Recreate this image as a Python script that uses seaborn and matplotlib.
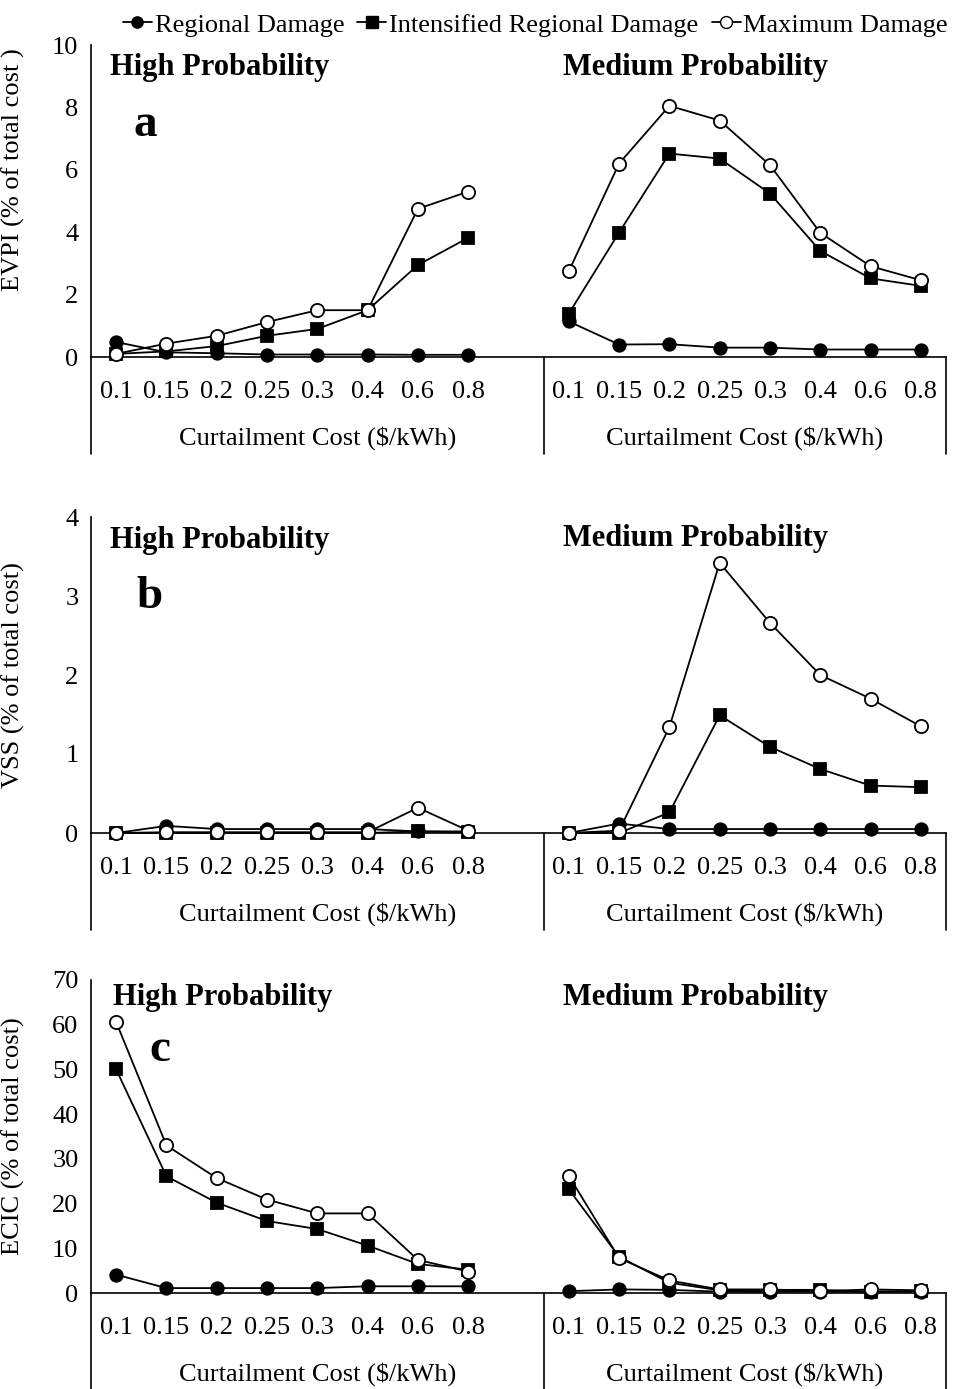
import numpy as np
import pandas as pd
import matplotlib.pyplot as plt
import matplotlib.transforms as mtransforms
from matplotlib.lines import Line2D
import seaborn as sns

# curtailment cost categories and the two probability groups
cost = ['0.1', '0.15', '0.2', '0.25', '0.3', '0.4', '0.6', '0.8']
groups = ['High Probability', 'Medium Probability']
series = ['Regional Damage', 'Intensified Regional Damage', 'Maximum Damage']

# (a) EVPI, % of total cost
evpi_high_regional = [0.48, 0.15, 0.12, 0.08, 0.08, 0.08, 0.07, 0.07]
evpi_high_intens = [0.10, 0.18, 0.35, 0.68, 0.90, 1.50, 2.95, 3.82]
evpi_high_max = [0.10, 0.43, 0.68, 1.12, 1.50, 1.50, 4.75, 5.30]
evpi_med_regional = [1.14, 0.40, 0.41, 0.30, 0.30, 0.24, 0.24, 0.24]
evpi_med_intens = [1.39, 3.99, 6.52, 6.36, 5.24, 3.40, 2.52, 2.28]
evpi_med_max = [2.75, 6.20, 8.05, 7.58, 6.15, 3.98, 2.91, 2.46]

# (b) VSS, % of total cost
vss_high_regional = [0.0, 0.09, 0.05, 0.05, 0.05, 0.05, 0.02, 0.02]
vss_high_intens = [0.0, 0.0, 0.0, 0.0, 0.0, 0.0, 0.02, 0.01]
vss_high_max = [0.0, 0.01, 0.01, 0.01, 0.01, 0.01, 0.32, 0.03]
vss_med_regional = [0.0, 0.12, 0.05, 0.05, 0.05, 0.05, 0.05, 0.05]
vss_med_intens = [0.0, 0.0, 0.26, 1.49, 1.09, 0.81, 0.60, 0.58]
vss_med_max = [0.0, 0.03, 1.34, 3.42, 2.66, 2.00, 1.70, 1.35]

# (c) ECIC, % of total cost
ecic_high_regional = [4.1, 1.1, 1.1, 1.1, 1.1, 1.5, 1.5, 1.5]
ecic_high_intens = [50.0, 26.1, 20.2, 16.1, 14.3, 10.6, 6.5, 5.2]
ecic_high_max = [60.6, 33.0, 25.7, 20.9, 17.8, 17.8, 7.4, 4.8]
ecic_med_regional = [0.4, 0.8, 0.7, 0.3, 0.3, 0.3, 0.3, 0.3]
ecic_med_intens = [23.2, 8.1, 2.3, 0.6, 0.7, 0.7, 0.3, 0.4]
ecic_med_max = [26.2, 7.8, 2.8, 0.8, 0.8, 0.4, 0.8, 0.6]

sns.set_style('white')
plt.rcParams['font.family'] = ['Liberation Serif', 'DejaVu Serif']
plt.rcParams['font.size'] = 19
for k in ['text.color', 'axes.labelcolor', 'xtick.color', 'ytick.color']:
    plt.rcParams[k] = 'black'


def panel_frame(high, med):
    # long table: slot 0-7 high group, slot 8 left blank, 9-16 medium group
    rows = []
    for g, vals_by_series in enumerate([high, med]):
        for s, vals in zip(series, vals_by_series):
            for i, v in enumerate(vals):
                rows.append({'slot': i + 9 * g, 'value': v, 'series': s, 'group': groups[g]})
    return pd.DataFrame(rows)


panels = [
    dict(df=panel_frame([evpi_high_regional, evpi_high_intens, evpi_high_max],
                        [evpi_med_regional, evpi_med_intens, evpi_med_max]),
         ylabel='EVPI (% of total cost )', ymax=10, step=2, letter='a',
         rect=[91, 45, 357], hp=(0.022, 0.927), mp=(0.707, 0.927), lp=(0.063, 0.744), ylab_y=0.60),
    dict(df=panel_frame([vss_high_regional, vss_high_intens, vss_high_max],
                        [vss_med_regional, vss_med_intens, vss_med_max]),
         ylabel='VSS (% of total cost)', ymax=4, step=1, letter='b',
         rect=[91, 517, 833], hp=(0.022, 0.925), mp=(0.707, 0.932), lp=(0.069, 0.747), ylab_y=0.5),
    dict(df=panel_frame([ecic_high_regional, ecic_high_intens, ecic_high_max],
                        [ecic_med_regional, ecic_med_intens, ecic_med_max]),
         ylabel='ECIC (% of total cost)', ymax=70, step=10, letter='c',
         rect=[91, 980, 1293], hp=(0.026, 0.945), mp=(0.707, 0.945), lp=(0.081, 0.776), ylab_y=0.5),
]

styles = {
    'Regional Damage': dict(marker='o', mfc='black', ms=9),
    'Intensified Regional Damage': dict(marker='s', mfc='black', ms=9),
    'Maximum Damage': dict(marker='o', mfc='white', ms=9.5),
}

W, H = 961, 1389
fig = plt.figure(figsize=(W / 100, H / 100), dpi=100)

for p in panels:
    left, top, zero = p['rect']
    ax = fig.add_axes([left / W, 1 - zero / H, (946 - left) / W, (zero - top) / H])
    df = p['df']
    for g in groups:
        for s in series:
            sub = df[(df['group'] == g) & (df['series'] == s)]
            st = styles[s]
            sns.lineplot(data=sub, x='slot', y='value', ax=ax, color='black', lw=1.3,
                         marker=st['marker'], markersize=st['ms'], markerfacecolor=st['mfc'],
                         markeredgecolor='black', markeredgewidth=1.3, clip_on=False,
                         legend=False, zorder=3)

    ax.set_xlim(-0.5, 16.5)
    ax.set_ylim(0, p['ymax'])
    ax.set_yticks(np.arange(0, p['ymax'] + 0.1, p['step']))
    ax.set_xticks(list(range(8)) + list(range(9, 17)), labels=cost + cost)
    ax.tick_params(axis='x', length=0, pad=17, labelsize=19)
    ax.tick_params(axis='y', direction='out', length=6, width=1.2, color='black', pad=3, labelsize=19)
    ax.set_xlabel('')
    ax.set_ylabel(p['ylabel'], fontsize=19)
    ax.yaxis.set_label_coords(-0.077, p['ylab_y'])
    for side in ['top', 'right']:
        ax.spines[side].set_visible(False)
    for side in ['left', 'bottom']:
        ax.spines[side].set_color('black')
        ax.spines[side].set_linewidth(1.2)

    # multi-level category axis below the zero line
    h_px = zero - top
    below = 97 / h_px
    trans = mtransforms.blended_transform_factory(ax.transData, ax.transAxes)
    for xv in [-0.5, 8.5, 16.5]:
        ax.plot([xv, xv], [0, -below], transform=trans, color='black', lw=1.2, clip_on=False)
    for xc in [4, 12.5]:
        ax.annotate('Curtailment Cost ($/kWh)', xy=(xc, 0), xycoords=trans,
                    xytext=(0, -58), textcoords='offset points',
                    ha='center', va='center', fontsize=19)

    ax.text(p['hp'][0], p['hp'][1], groups[0], transform=ax.transAxes, ha='left', va='center',
            fontsize=22, fontweight='bold')
    ax.text(p['mp'][0], p['mp'][1], groups[1], transform=ax.transAxes, ha='center', va='center',
            fontsize=22, fontweight='bold')
    ax.text(p['lp'][0], p['lp'][1], p['letter'], transform=ax.transAxes, ha='center', va='center',
            fontsize=34, fontweight='bold')

handles = [Line2D([], [], color='black', lw=1.3, marker=styles[s]['marker'],
                  markersize=styles[s]['ms'] * 0.9, markerfacecolor=styles[s]['mfc'],
                  markeredgecolor='black') for s in series]
fig.legend(handles, series, loc='upper right', bbox_to_anchor=(1.0, 1.0), ncol=3, frameon=False,
           fontsize=19, handlelength=1.1, handletextpad=0.1, columnspacing=0.5, borderaxespad=0.1)

fig.savefig('out.png', dpi=100)
